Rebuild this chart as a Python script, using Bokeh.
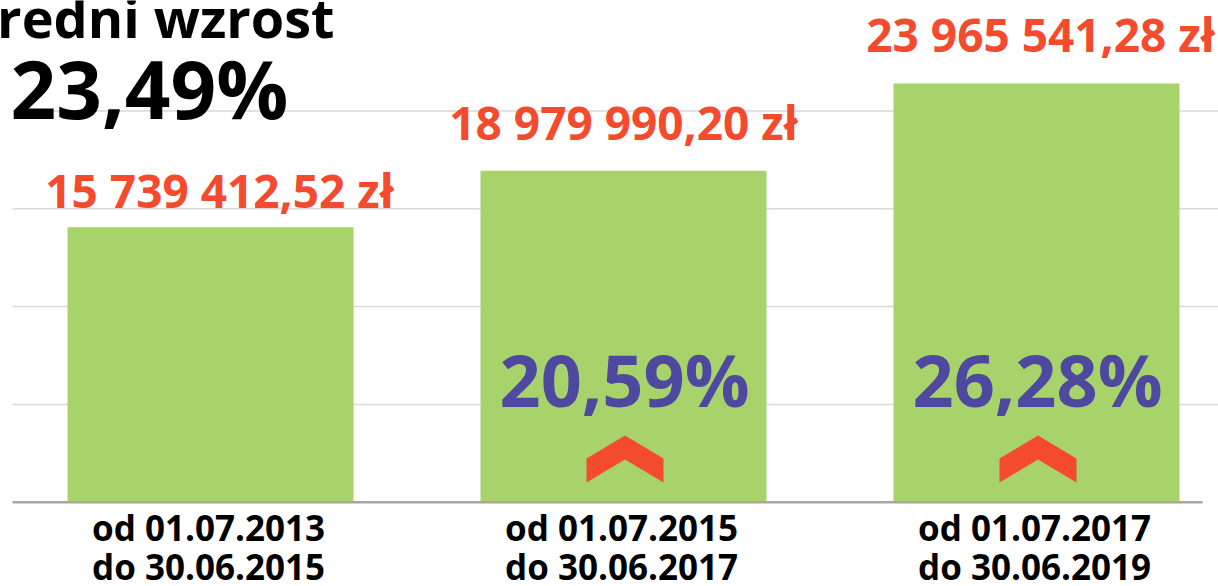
from bokeh.plotting import figure
from bokeh.models import Range1d
from bokeh.embed import file_html
from bokeh.resources import INLINE
from bokeh.core.properties import value

# ---- data ----
periods_from = ["od 01.07.2013", "od 01.07.2015", "od 01.07.2017"]
periods_to = ["do 30.06.2015", "do 30.06.2017", "do 30.06.2019"]
amounts = [15739412.52, 18979990.20, 23965541.28]
growth = [None, 20.59, 26.28]
avg_growth = 23.49
title_text = "Średni wzrost"
gridline_values = [5600000, 11200000, 16800000, 22400000]

# ---- layout helpers ----
W, H = 1218, 586
base_px = 501.7
k = 57250.0          # zł per screen pixel
x_step = 413.0       # px between bar centres
x0_px = 210.0        # px of first bar centre
FONT = value("Open Sans")
RED = "#F44B2E"
PURPLE = "#4E48A0"
GREEN = "#A8D36B"
BL = 0.41            # baseline correction (fraction of font size)


def ypx(px):
    return (base_px - px) * k


def xpx(px):
    return (px - x0_px) / x_step


def fmt_pln(v):
    return f"{v:,.2f}".replace(",", " ").replace(".", ",") + " zł"


def fmt_pct(v):
    return f"{v:.2f}".replace(".", ",") + "%"


p = figure(width=W, height=H,
           x_range=Range1d(xpx(0), xpx(W)),
           y_range=Range1d(ypx(H), ypx(0)),
           output_backend="svg", toolbar_location=None, min_border=0,
           x_axis_location=None, y_axis_location=None,
           outline_line_color=None, background_fill_color="white",
           border_fill_color="white")
p.grid.visible = False

# gridlines
p.segment(x0=xpx(12), x1=xpx(W), y0=gridline_values, y1=gridline_values,
          line_color="#D9D9D9", line_width=1.5)

# bars
xs = list(range(len(amounts)))
p.vbar(x=xs, top=amounts, bottom=0, width=286 / x_step,
       fill_color=GREEN, line_color=None)

# baseline
p.segment(x0=[xpx(12)], x1=[xpx(1202)], y0=[0], y1=[0],
          line_color="#A6A6A6", line_width=2.5)

# value labels above bars
vs = 46
gaps_px = [18, 30, 31]
nudge_px = [9, 0, 4]
p.text(x=[i + nudge_px[i] / x_step for i in xs],
       y=[amounts[i] + (gaps_px[i] + BL * vs) * k for i in xs],
       text=[fmt_pln(v) for v in amounts],
       text_align="center", text_baseline="alphabetic",
       text_font=FONT, text_font_style="bold", text_font_size=f"{vs}px",
       text_color=RED)

# growth labels and chevrons inside bars
gs = 72
gi = [i for i in xs if growth[i] is not None]
p.text(x=[i + 1 / x_step for i in gi], y=[ypx(408 - BL * gs)] * len(gi),
       text=[fmt_pct(growth[i]) for i in gi],
       text_align="center", text_baseline="alphabetic",
       text_font=FONT, text_font_style="bold", text_font_size=f"{gs}px",
       text_color=PURPLE)

chev = [(-38.5, 0), (-38.5, 24), (0, 47), (38.5, 24), (38.5, 0), (0, 23)]
p.patches(xs=[[i + (1.5 + dx) / x_step for dx, dy in chev] for i in gi],
          ys=[[ypx(482 - dy) for dx, dy in chev] for i in gi],
          fill_color=RED, line_color=None)

# category labels (two lines)
cs = 35
for txt, base in ((periods_from, 541.7), (periods_to, 580.7)):
    p.text(x=[i - 2 / x_step for i in xs], y=[ypx(base - BL * cs)] * len(xs),
           text=txt,
           text_align="center", text_baseline="alphabetic",
           text_font=FONT, text_font_style="bold", text_font_size=f"{cs}px",
           text_color="black")

# headline
ts = 54
p.text(x=[xpx(334)], y=[ypx(39 - BL * ts)], text=[title_text],
       text_align="right", text_baseline="alphabetic",
       text_font=FONT, text_font_style="bold", text_font_size=f"{ts}px",
       text_color="black")
hs = 80
p.text(x=[xpx(149)], y=[ypx(120 - BL * hs)], text=[fmt_pct(avg_growth)],
       text_align="center", text_baseline="alphabetic",
       text_font=FONT, text_font_style="bold", text_font_size=f"{hs}px",
       text_color="black")

open("out.html", "w").write(file_html(p, INLINE))
